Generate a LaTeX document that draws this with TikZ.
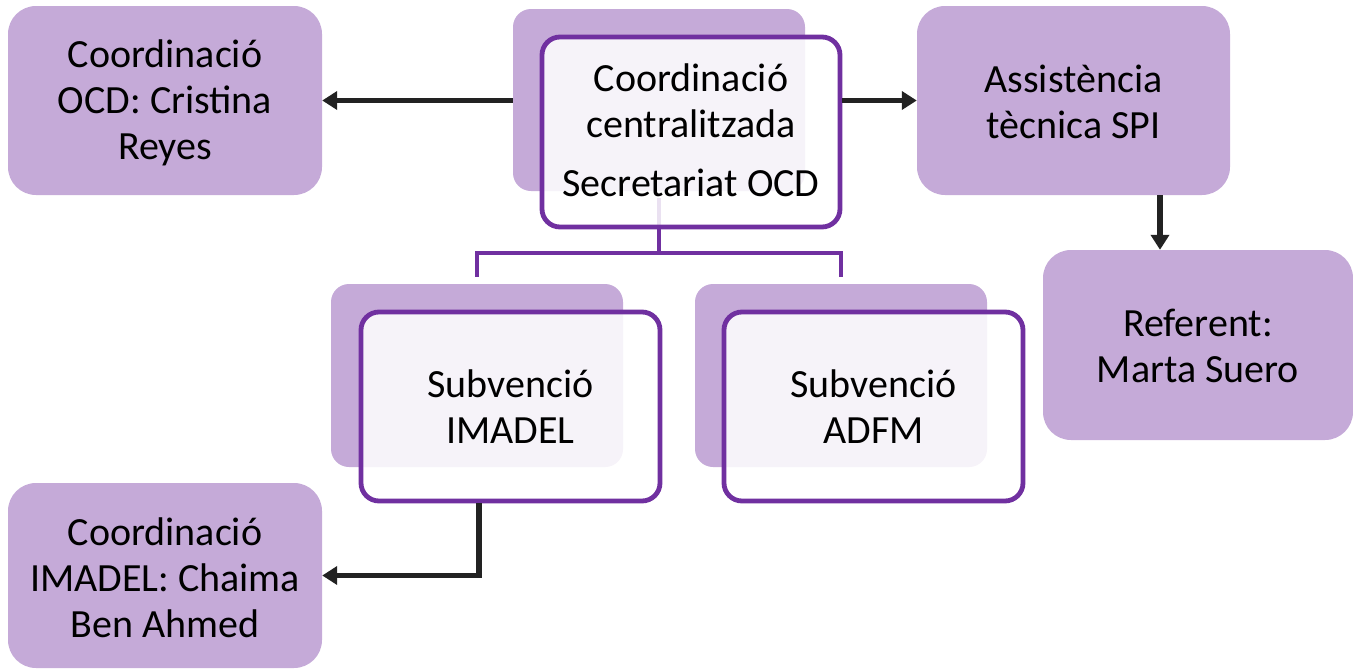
\documentclass[tikz,border=0pt]{standalone}
\usepackage{fontspec}
\setmainfont{Carlito}
\usetikzlibrary{arrows.meta,calc}
\definecolor{lav}{RGB}{197,170,216}
\definecolor{pur}{RGB}{112,48,160}
\definecolor{blk}{RGB}{34,34,34}
\begin{document}
\begin{tikzpicture}[x=1pt,y=-1pt,
  txt/.style={font=\fontsize{40}{46}\selectfont, align=center, text=black},
  card/.style={fill=lav, draw=none, rounded corners=28pt, inner sep=0pt},
  backbox/.style={fill=lav, draw=none, rounded corners=18pt, inner sep=0pt},
  frontbox/.style={fill=white, fill opacity=0.86, draw=pur, draw opacity=1, line width=4.8pt, rounded corners=18pt, inner sep=0pt},
  arr/.style={draw=blk, line width=5.2pt, -{Triangle[length=15pt,width=18pt]}},
  tree/.style={draw=pur, line width=4.8pt}]
\useasboundingbox (0,0) rectangle (1353,670);
% side cards
\node[card, minimum width=314pt, minimum height=189pt] (ocd) at (165,100.5) {};
\node[txt] at ($(ocd)+(0,2)$) {Coordinació\\OCD: Cristina\\Reyes};
\node[card, minimum width=313pt, minimum height=189pt] (spi) at (1073.5,100.5) {};
\node[txt] at ($(spi)+(0,1)$) {Assistència\\tècnica SPI};
\node[card, minimum width=310pt, minimum height=190pt] (ref) at (1198,345) {};
\node[txt] at ($(ref)+(0,1)$) {Referent:\\Marta Suero};
\node[card, minimum width=314pt, minimum height=185pt] (chaima) at (165,575.5) {};
\node[txt] at ($(chaima)+(0,2)$) {Coordinació\\IMADEL: Chaima\\Ben Ahmed};
% back boxes
\node[backbox, minimum width=292pt, minimum height=182pt] (cback) at (659,100) {};
\node[backbox, minimum width=292pt, minimum height=183pt] (iback) at (477,375.5) {};
\node[backbox, minimum width=292pt, minimum height=183pt] (aback) at (841,375.5) {};
% tree connector (starts behind the front box)
\coordinate (tstart) at (659,198);
\coordinate (tl) at (477,277);
\coordinate (tr) at (841,277);
\draw[tree] (tstart) -- (659,253) -| (tl);
\draw[tree] (659,253) -| (tr);
% front boxes
\node[frontbox, minimum width=298pt, minimum height=190pt] (cfront) at (691,132) {};
\node[frontbox, minimum width=299pt, minimum height=189pt] (ifront) at (510.5,406.5) {};
\node[frontbox, minimum width=299pt, minimum height=189pt] (afront) at (873.5,406.5) {};
\node[txt] at (691,101) {Coordinació\\centralitzada};
\node[txt] at (691,183) {Secretariat OCD};
\node[txt] at (510.5,407) {Subvenció\\IMADEL};
\node[txt] at (873.5,407) {Subvenció\\ADFM};
% arrows
\draw[arr] (cback.west |- ocd.east) -- (ocd.east);
\draw[arr] (cfront.east |- spi.west) -- (spi.west);
\coordinate (sd) at ($(spi.south)+(86.5,0)$);
\draw[arr] (sd) -- (sd |- ref.north);
\coordinate (id) at ($(ifront.south)+(-31.5,0)$);
\draw[arr] (id) |- (chaima.east);
\end{tikzpicture}
\end{document}
